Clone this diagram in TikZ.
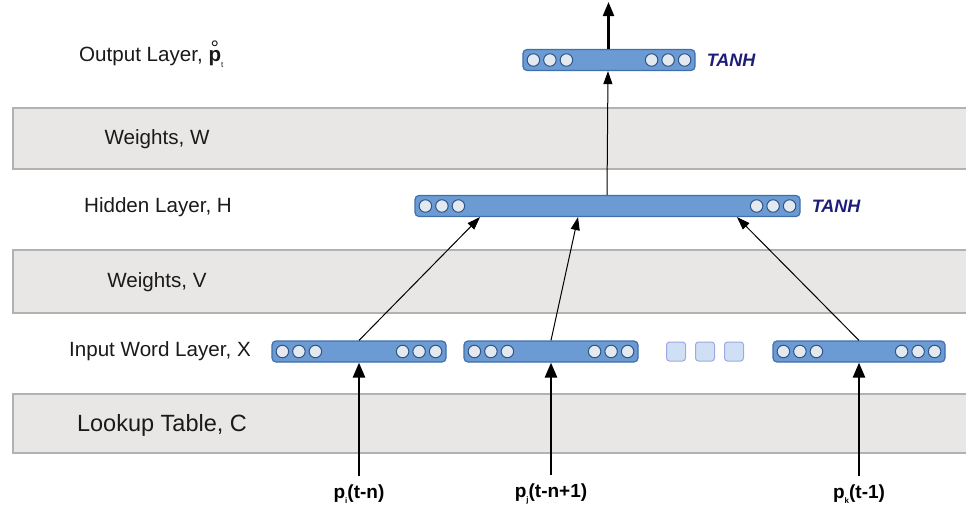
\documentclass[tikz,border=0pt]{standalone}
\usepackage{fontspec}
\setmainfont{Liberation Sans}
\usetikzlibrary{arrows.meta,positioning}

\definecolor{bandfill}{HTML}{E8E7E6}
\definecolor{bandline}{HTML}{B3B2B0}
\definecolor{barfill}{HTML}{6B9BD2}
\definecolor{barline}{HTML}{3F6FAD}
\definecolor{dotfill}{HTML}{E4E9F0}
\definecolor{dotline}{HTML}{2D5589}
\definecolor{sqfill}{HTML}{CFE0F4}
\definecolor{sqline}{HTML}{A0A8E4}
\definecolor{actcol}{HTML}{1E1E78}
\definecolor{txt}{HTML}{1A1A1A}

% small lowered index after a word symbol
\newcommand\lowidx[1]{\raisebox{-0.3em}{\fontsize{8}{8}\selectfont #1}}
% p with a ring above
\newcommand\ringp{\ooalign{\hfil\textbf{p}\hfil\cr\hfil\raisebox{6pt}{\fontsize{21}{21}\selectfont °}\hfil\cr}}

\begin{document}
\begin{tikzpicture}[x=1pt,y=-1pt,
  band/.style={fill=bandfill,draw=bandline,line width=1.6pt},
  lbl/.style={text=txt,font=\fontsize{20.6}{24}\selectfont,inner sep=0pt},
  vecbar/.style={rectangle,rounded corners=4pt,fill=barfill,draw=barline,
    line width=1.2pt,minimum height=21pt,inner sep=0pt},
  unit/.style={circle,fill=dotfill,draw=dotline,line width=1pt,
    minimum size=12.5pt,inner sep=0pt},
  gap/.style={rectangle,rounded corners=3pt,fill=sqfill,draw=sqline,
    line width=1pt,minimum size=19pt,inner sep=0pt},
  act/.style={text=actcol,font=\fontsize{18}{20}\selectfont\bfseries\itshape,
    anchor=west,inner sep=0pt},
  wordlbl/.style={text=black,font=\fontsize{19}{22}\selectfont\bfseries,inner sep=2pt},
  feed/.style={line width=2.6pt,-{Triangle[width=12pt,length=15pt]}},
  link/.style={line width=1pt,-{Triangle[width=9pt,length=13pt]}}]

\useasboundingbox (0,0) rectangle (966,512);

% shaded weight / lookup bands
\draw[band] (13,108) rectangle (975,169);
\draw[band] (13,250) rectangle (975,313);
\draw[band] (13,394) rectangle (975,453);

% layer names
\node[lbl,anchor=west] (outname) at (79,57)
  {Output Layer, \ringp\lowidx{t}};
\node[lbl] (wname) at (157,139) {Weights, W};
\node[lbl] (hname) at (158,207) {Hidden Layer, H};
\node[lbl] (vname) at (157,282) {Weights, V};
\node[lbl] (xname) at (160,351) {Input Word Layer, X};
\node[lbl,font=\fontsize{23.5}{26}\selectfont] (cname) at (162,425) {Lookup Table, C};

% vector layers
\node[vecbar,minimum width=172pt] (out) at (609,60) {};
\node[vecbar,minimum width=385pt] (hid) at (607.5,206) {};
\node[vecbar,minimum width=174pt] (x1) at (359,351.5) {};
\node[vecbar,minimum width=174pt] (x2) at (551,351.5) {};
\node[vecbar,minimum width=172pt] (x4) at (859,351.5) {};

% units drawn at both ends of each vector
\foreach \b in {out,hid,x1,x2,x4}{
  \foreach \d [count=\k] in {11,27.5,44}{
    \node[unit] (\b-l\k) at ([xshift=\d pt]\b.west) {};
    \node[unit] (\b-r\k) at ([xshift=-\d pt]\b.east) {};
  }
}

% elided input words
\node[gap] (g1) at (676,351.5) {};
\node[gap] (g2) at (705,351.5) {};
\node[gap] (g3) at (734,351.5) {};

% activation names
\node[act] (outact) at ([xshift=11pt]out.east) {TANH};
\node[act] (hidact) at ([xshift=11pt]hid.east) {TANH};

% context words
\node[wordlbl] (w1) at (359,494) {p\lowidx{i}(t-n)};
\node[wordlbl] (w2) at (551,494) {p\lowidx{j}(t-n+1)};
\node[wordlbl] (w4) at (859,494) {p\lowidx{k}(t-1)};
\coordinate (top) at (608.5,2);

% connections
\draw[feed] (w1.north) ++(0,-6) -- (x1.south);
\draw[feed] (w2.north) ++(0,-6) -- (x2.south);
\draw[feed] (w4.north) ++(0,-6) -- (x4.south);
\draw[link] (x1.north) -- ([xshift=-127.5pt]hid.south);
\draw[link] (x2.north) -- ([xshift=-29.5pt]hid.south);
\draw[link] (x4.north) -- ([xshift=129.5pt]hid.south);
\draw[link] ([xshift=-0.5pt]hid.north) -- ([xshift=-1pt]out.south);
\draw[line width=2.2pt,-{Triangle[width=11pt,length=14pt]}] ([xshift=-0.5pt]out.north) -- (top);
\end{tikzpicture}
\end{document}
